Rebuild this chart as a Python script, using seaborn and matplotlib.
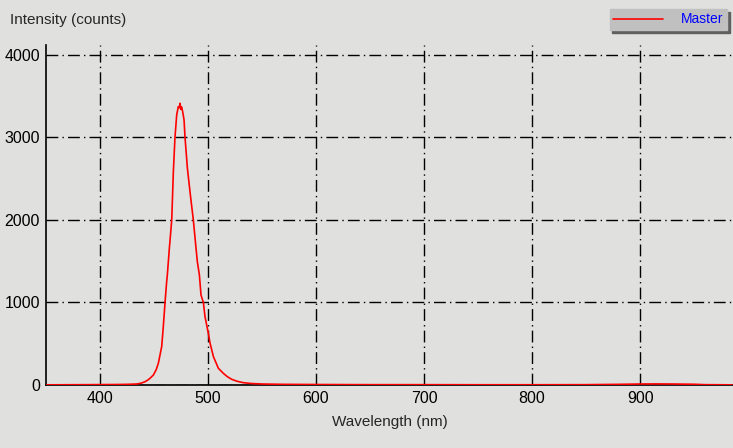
import matplotlib
matplotlib.use("Agg")
import matplotlib.pyplot as plt
import seaborn as sns
import pandas as pd
from matplotlib.ticker import MultipleLocator

# Spectrum (wavelength nm, intensity counts)
wavelength = [350, 370, 390, 400, 415, 425, 434, 438, 441.7, 444, 446.3,
              449.4, 452, 454, 457.1, 458.6, 460.2, 461.7, 462.3, 464.2,
              466.4, 467.9, 469.4, 471, 472.5, 473.5, 474.1, 474.8, 475.5,
              476.5, 477.8, 478.7, 480.9, 484, 486.4, 488, 490.1, 492,
              493.5, 495.7, 497.2, 500.3, 501.9, 505, 509.6, 514.2, 518,
              521.9, 527, 532.7, 540, 550, 570, 600, 650, 700, 750, 800,
              850, 880, 900, 915, 930, 950, 960, 985]
intensity = [2, 3, 4, 5, 6, 8, 12, 22, 40, 58, 81,
             121, 185, 263, 465, 707, 1000, 1252, 1330, 1657,
             2000, 2586, 3000, 3273, 3374, 3360, 3414, 3340, 3370,
             3313, 3212, 3000, 2626, 2263, 2000, 1778, 1495, 1333,
             1090, 1000, 828, 626, 505, 343, 202, 141, 100,
             69, 45, 28, 18, 12, 8, 6, 4, 4, 3, 3,
             4, 8, 12, 13, 12, 9, 4, 2]

df = pd.DataFrame({"Wavelength": wavelength, "Intensity": intensity})

sns.set_style("white", {"axes.facecolor": "#e0e0de", "figure.facecolor": "#e0e0de"})
plt.rcParams["font.family"] = ["Liberation Sans", "DejaVu Sans"]

fig = plt.figure(figsize=(7.33, 4.48), dpi=100)
ax = fig.add_axes([46 / 733, 1 - 385 / 448, 1 - 46 / 733, (385 - 45) / 448])

sns.lineplot(data=df, x="Wavelength", y="Intensity", color="red", linewidth=1.2,
             label="Master", ax=ax, zorder=3)

ax.set_xlim(350, 986)
ax.set_ylim(0, 4120)
ax.xaxis.set_major_locator(MultipleLocator(100))
ax.xaxis.set_minor_locator(MultipleLocator(50))
ax.yaxis.set_major_locator(MultipleLocator(1000))
ax.yaxis.set_minor_locator(MultipleLocator(500))
ax.set_xticks(range(400, 1000, 100))

ax.grid(True, which="major", color="black", linewidth=1,
        linestyle=(0, (8.5, 3, 1, 3)))
ax.tick_params(which="both", direction="inout", length=7, width=1,
               colors="black", labelsize=11.5, pad=1)
ax.tick_params(which="minor", length=5)

for side in ["top", "right"]:
    ax.spines[side].set_visible(False)
for side in ["left", "bottom"]:
    ax.spines[side].set_color("black")
    ax.spines[side].set_linewidth(1.2)

ax.set_xlabel("Wavelength (nm)", fontsize=11, labelpad=6)
ax.set_ylabel("")
fig.text(10 / 733, 1 - 20 / 448, "Intensity (counts)", fontsize=11,
         va="center", ha="left")

leg = ax.legend(loc="upper right", bbox_to_anchor=(727 / 733, 1 - 9 / 448),
                bbox_transform=fig.transFigure, frameon=True, fancybox=False,
                shadow={"color": "#606060", "alpha": 1}, facecolor="#c0c0c0",
                edgecolor="#c0c0c0", fontsize=10, handlelength=3.6,
                borderpad=0.25, handletextpad=1.3, borderaxespad=0)
leg.get_frame().set_alpha(1)
for t in leg.get_texts():
    t.set_color("blue")

fig.savefig("out.png", dpi=100, facecolor=fig.get_facecolor())
